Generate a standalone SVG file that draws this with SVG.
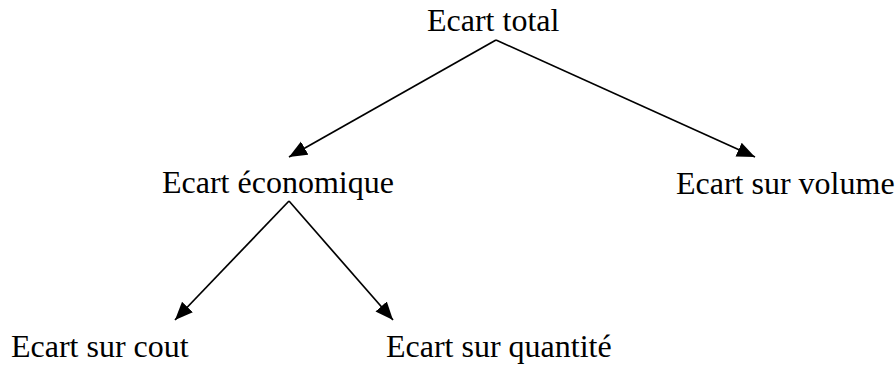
<svg xmlns="http://www.w3.org/2000/svg" width="895" height="367" viewBox="0 0 895 367">
<style>
text { font-family: "Liberation Serif", "Times New Roman", serif; font-size: 32px; fill: #000; }
.edge { stroke: #000; stroke-width: 1.7; fill: none; marker-end: url(#arrow); }
</style>
<defs>
<marker id="arrow" markerUnits="userSpaceOnUse" markerWidth="20" markerHeight="16" refX="18" refY="7.5" orient="auto">
<path d="M0,0 L18,7.5 L0,15 Z" fill="#000"/>
</marker>
</defs>
<rect width="895" height="367" fill="#fff"/>
<g id="connectors">
<line class="edge" x1="496" y1="40" x2="289" y2="157"/>
<line class="edge" x1="496" y1="40" x2="755" y2="157"/>
<line class="edge" x1="289" y1="201" x2="175" y2="320"/>
<line class="edge" x1="289" y1="201" x2="393" y2="320"/>
</g>
<g id="n-total"><text x="427" y="31">Ecart total</text></g>
<g id="n-economique"><text x="162" y="193">Ecart économique</text></g>
<g id="n-volume"><text x="676" y="194">Ecart sur volume</text></g>
<g id="n-cout"><text x="11" y="357">Ecart sur cout</text></g>
<g id="n-quantite"><text x="386" y="357">Ecart sur quantité</text></g>
</svg>
